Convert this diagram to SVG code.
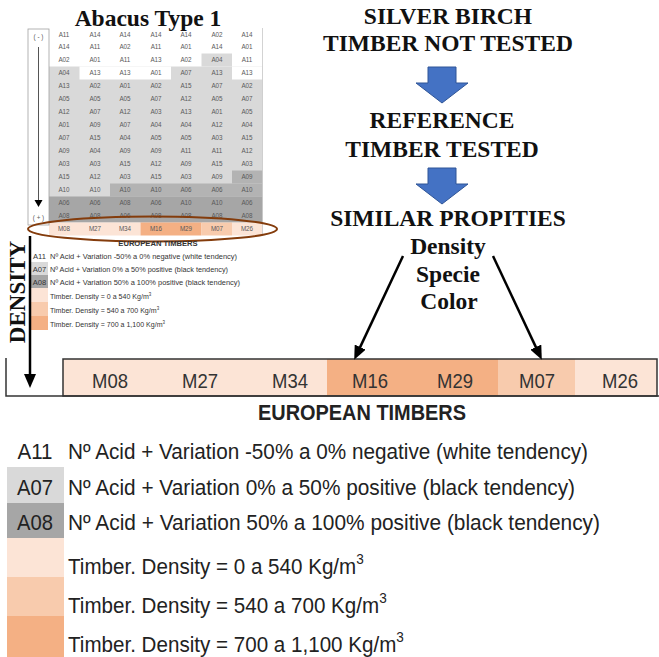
<svg xmlns="http://www.w3.org/2000/svg" width="659" height="657" viewBox="0 0 659 657">
  <style>
    .serif { font-family: "Liberation Serif", "Times New Roman", serif; font-weight: bold; fill: #111; }
    .head { font-size: 23.5px; text-anchor: middle; }
    .cell { font-family: "Liberation Sans", Arial, sans-serif; font-size: 6.3px; fill: #595959; text-anchor: middle; }
    .sm { font-family: "Liberation Sans", Arial, sans-serif; font-size: 7.6px; fill: #333; }
    .lg { font-family: "Liberation Sans", Arial, sans-serif; font-size: 22px; fill: #222; }
    .mt { font-family: "Liberation Sans", Arial, sans-serif; font-size: 21px; fill: #333; text-anchor: middle; }
    .lgray { fill: #d9d9d9; }
    .dgray { fill: #b3b3b3; }
    .ddgray { fill: #a6a6a6; }
    .p1 { fill: #fce4d6; }
    .p2 { fill: #f8cbad; }
    .p3 { fill: #f4b084; }
    .blue { fill: #4472c4; stroke: #2f5597; stroke-width: 1; }
    .blk { stroke: #000; stroke-width: 2.5; fill: none; }
  </style>
  <defs>
    <marker id="tip" viewBox="0 0 14 12" refX="2" refY="6" markerWidth="14" markerHeight="12" markerUnits="userSpaceOnUse" orient="auto">
      <path d="M0,0 L14,6 L0,12 Z" fill="#000"/>
    </marker>
  </defs>
  <rect width="659" height="657" fill="#fff"/>

  <!-- Abacus table -->
  <g id="abacus">
    <text class="serif" x="148" y="26" font-size="23.5" text-anchor="middle">Abacus Type 1</text>
    <!-- shading -->
    <rect class="lgray" x="49" y="66.5" width="213.5" height="156"/>
    <rect fill="#fff" x="79.5" y="66.5" width="91.5" height="13"/>
    <rect fill="#fff" x="232" y="66.5" width="30.5" height="13"/>
    <rect class="lgray" x="201.5" y="53.5" width="30.5" height="13"/>
    <rect class="dgray" x="232" y="170.5" width="30.5" height="13"/>
    <rect class="dgray" x="110" y="183.5" width="152.5" height="13"/>
    <rect class="ddgray" x="49" y="196.5" width="213.5" height="26"/>
    <!-- timber row -->
    <rect class="p1" x="49" y="222.5" width="91.5" height="13"/>
    <rect class="p3" x="140.5" y="222.5" width="61" height="13"/>
    <rect class="p2" x="201.5" y="222.5" width="30.5" height="13"/>
    <rect class="p1" x="232" y="222.5" width="30.5" height="13"/>
    <line x1="262.5" y1="28" x2="262.5" y2="236" stroke="#c8c8c8" stroke-width="0.8"/>
    <!-- scale box -->
    <rect x="28" y="29" width="21" height="196" fill="none" stroke="#a0a0a0" stroke-width="0.8"/>
    <text class="cell" x="38.5" y="38.5" font-size="7">( - )</text>
    <text class="cell" x="38.5" y="220" font-size="7">( + )</text>
    <line x1="38.5" y1="47" x2="38.5" y2="201" stroke="#555" stroke-width="1"/>
    <path d="M34.5,200 L42.5,200 L38.5,207 Z" fill="#000"/>
    <!-- cell values -->
    <text class="cell" y="36.6"><tspan x="64">A11</tspan><tspan x="95">A14</tspan><tspan x="125">A14</tspan><tspan x="156">A14</tspan><tspan x="186">A14</tspan><tspan x="217">A02</tspan><tspan x="247">A14</tspan></text>
    <text class="cell" y="49.3"><tspan x="64">A14</tspan><tspan x="95">A11</tspan><tspan x="125">A02</tspan><tspan x="156">A11</tspan><tspan x="186">A01</tspan><tspan x="217">A14</tspan><tspan x="247">A01</tspan></text>
    <text class="cell" y="62.3"><tspan x="64">A02</tspan><tspan x="95">A01</tspan><tspan x="125">A11</tspan><tspan x="156">A13</tspan><tspan x="186">A02</tspan><tspan x="217">A04</tspan><tspan x="247">A11</tspan></text>
    <text class="cell" y="75.3"><tspan x="64">A04</tspan><tspan x="95">A13</tspan><tspan x="125">A13</tspan><tspan x="156">A01</tspan><tspan x="186">A07</tspan><tspan x="217">A13</tspan><tspan x="247">A13</tspan></text>
    <text class="cell" y="88.3"><tspan x="64">A13</tspan><tspan x="95">A02</tspan><tspan x="125">A01</tspan><tspan x="156">A02</tspan><tspan x="186">A15</tspan><tspan x="217">A07</tspan><tspan x="247">A02</tspan></text>
    <text class="cell" y="101.3"><tspan x="64">A05</tspan><tspan x="95">A05</tspan><tspan x="125">A05</tspan><tspan x="156">A07</tspan><tspan x="186">A12</tspan><tspan x="217">A05</tspan><tspan x="247">A07</tspan></text>
    <text class="cell" y="114.3"><tspan x="64">A12</tspan><tspan x="95">A07</tspan><tspan x="125">A12</tspan><tspan x="156">A03</tspan><tspan x="186">A13</tspan><tspan x="217">A01</tspan><tspan x="247">A05</tspan></text>
    <text class="cell" y="127.3"><tspan x="64">A01</tspan><tspan x="95">A09</tspan><tspan x="125">A07</tspan><tspan x="156">A04</tspan><tspan x="186">A04</tspan><tspan x="217">A12</tspan><tspan x="247">A04</tspan></text>
    <text class="cell" y="140.3"><tspan x="64">A07</tspan><tspan x="95">A15</tspan><tspan x="125">A04</tspan><tspan x="156">A05</tspan><tspan x="186">A05</tspan><tspan x="217">A03</tspan><tspan x="247">A15</tspan></text>
    <text class="cell" y="153.3"><tspan x="64">A09</tspan><tspan x="95">A04</tspan><tspan x="125">A09</tspan><tspan x="156">A09</tspan><tspan x="186">A11</tspan><tspan x="217">A11</tspan><tspan x="247">A12</tspan></text>
    <text class="cell" y="166.3"><tspan x="64">A03</tspan><tspan x="95">A03</tspan><tspan x="125">A15</tspan><tspan x="156">A12</tspan><tspan x="186">A09</tspan><tspan x="217">A15</tspan><tspan x="247">A03</tspan></text>
    <text class="cell" y="179.3"><tspan x="64">A15</tspan><tspan x="95">A12</tspan><tspan x="125">A03</tspan><tspan x="156">A15</tspan><tspan x="186">A03</tspan><tspan x="217">A09</tspan><tspan x="247">A09</tspan></text>
    <text class="cell" y="192.3"><tspan x="64">A10</tspan><tspan x="95">A10</tspan><tspan x="125">A10</tspan><tspan x="156">A10</tspan><tspan x="186">A06</tspan><tspan x="217">A06</tspan><tspan x="247">A10</tspan></text>
    <text class="cell" y="205.3"><tspan x="64">A06</tspan><tspan x="95">A06</tspan><tspan x="125">A08</tspan><tspan x="156">A06</tspan><tspan x="186">A10</tspan><tspan x="217">A10</tspan><tspan x="247">A06</tspan></text>
    <text class="cell" y="218.3"><tspan x="64">A08</tspan><tspan x="95">A08</tspan><tspan x="125">A06</tspan><tspan x="156">A08</tspan><tspan x="186">A08</tspan><tspan x="217">A08</tspan><tspan x="247">A08</tspan></text>
    <text class="cell" y="231.3"><tspan x="64">M08</tspan><tspan x="95">M27</tspan><tspan x="125">M34</tspan><tspan x="156">M16</tspan><tspan x="186">M29</tspan><tspan x="217">M07</tspan><tspan x="247">M26</tspan></text>
    <!-- highlight of the timber row -->
    <ellipse cx="152.5" cy="229" rx="124.5" ry="12.5" fill="none" stroke="#843c0c" stroke-width="2"/>
  </g>

  <!-- Small legend under the table -->
  <g id="small-legend">
    <text class="sm" x="158" y="246" font-weight="bold" font-size="7" text-anchor="middle">EUROPEAN TIMBERS</text>
    <rect class="lgray" x="30" y="262" width="18" height="13"/>
    <rect class="ddgray" x="30" y="275" width="18" height="13"/>
    <rect class="p1" x="30" y="288" width="18" height="14"/>
    <rect class="p2" x="30" y="302" width="18" height="14"/>
    <rect class="p3" x="30" y="316" width="18" height="14"/>
    <text class="sm" x="39.5" y="258.5" text-anchor="middle">A11</text>
    <text class="sm" x="39.5" y="271.8" text-anchor="middle">A07</text>
    <text class="sm" x="39.5" y="284.8" text-anchor="middle">A08</text>
    <text class="sm" x="50" y="258.5" textLength="187" lengthAdjust="spacingAndGlyphs">Nº Acid + Variation -50% a 0% negative (white tendency)</text>
    <text class="sm" x="50" y="271.8" textLength="178" lengthAdjust="spacingAndGlyphs">Nº Acid + Variation 0% a 50% positive (black tendency)</text>
    <text class="sm" x="50" y="284.8" textLength="190" lengthAdjust="spacingAndGlyphs">Nº Acid + Variation 50% a 100% positive (black tendency)</text>
    <text class="sm" transform="translate(50,299) scale(0.93,1)" font-size="7">Timber. Density = 0 a 540 Kg/m<tspan font-size="4.8" dy="-3.2">3</tspan></text>
    <text class="sm" transform="translate(50,313) scale(0.93,1)" font-size="7">Timber. Density = 540 a 700 Kg/m<tspan font-size="4.8" dy="-3.2">3</tspan></text>
    <text class="sm" transform="translate(50,327) scale(0.93,1)" font-size="7">Timber. Density = 700 a 1,100 Kg/m<tspan font-size="4.8" dy="-3.2">3</tspan></text>
  </g>

  <!-- Density axis label -->
  <g id="density-axis">
    <text class="serif" transform="translate(24.5,292) rotate(-90)" font-size="23" text-anchor="middle">DENSITY</text>
  </g>

  <!-- Process steps -->
  <g id="step-silver-birch">
    <text class="serif head" x="448" y="24">SILVER BIRCH</text>
    <text class="serif head" x="448" y="51">TIMBER NOT TESTED</text>
  </g>
  <g id="step-reference">
    <text class="serif head" x="442" y="128">REFERENCE</text>
    <text class="serif head" x="442" y="157">TIMBER TESTED</text>
  </g>
  <g id="step-similar">
    <text class="serif head" x="448" y="226">SIMILAR PROPITIES</text>
    <text class="serif head" x="448" y="254">Density</text>
    <text class="serif head" x="448" y="282">Specie</text>
    <text class="serif head" x="449" y="309">Color</text>
  </g>

  <!-- European timbers bar -->
  <g id="timber-bar">
    <rect class="p1" x="63" y="359" width="264" height="37"/>
    <rect class="p3" x="327" y="359" width="171" height="37"/>
    <rect class="p2" x="498" y="359" width="77" height="37"/>
    <rect class="p1" x="575" y="359" width="82" height="37"/>
    <rect x="63" y="359" width="594" height="37" fill="none" stroke="#333" stroke-width="1.5"/>
    <polyline points="6,358 6,396 659,396" fill="none" stroke="#333" stroke-width="1.5"/>
    <text class="mt" x="110" y="388" textLength="36" lengthAdjust="spacingAndGlyphs">M08</text>
    <text class="mt" x="200" y="388" textLength="36" lengthAdjust="spacingAndGlyphs">M27</text>
    <text class="mt" x="290" y="388" textLength="36" lengthAdjust="spacingAndGlyphs">M34</text>
    <text class="mt" x="370" y="388" textLength="36" lengthAdjust="spacingAndGlyphs">M16</text>
    <text class="mt" x="455" y="388" textLength="36" lengthAdjust="spacingAndGlyphs">M29</text>
    <text class="mt" x="537" y="388" textLength="36" lengthAdjust="spacingAndGlyphs">M07</text>
    <text class="mt" x="620" y="388" textLength="36" lengthAdjust="spacingAndGlyphs">M26</text>
    <text class="lg" x="362" y="420" font-weight="bold" font-size="21" text-anchor="middle" textLength="208" lengthAdjust="spacingAndGlyphs">EUROPEAN TIMBERS</text>
  </g>

  <!-- Large legend -->
  <g id="legend">
    <rect class="lgray" x="7" y="467" width="57" height="36"/>
    <rect class="ddgray" x="7" y="503" width="57" height="35"/>
    <rect class="p1" x="7" y="538" width="57" height="39"/>
    <rect class="p2" x="7" y="577" width="57" height="39"/>
    <rect class="p3" x="7" y="616" width="57" height="41"/>
    <text class="lg" x="35" y="459" text-anchor="middle" textLength="35" lengthAdjust="spacingAndGlyphs">A11</text>
    <text class="lg" x="35" y="495" text-anchor="middle" textLength="36" lengthAdjust="spacingAndGlyphs">A07</text>
    <text class="lg" x="35" y="530" text-anchor="middle" textLength="36" lengthAdjust="spacingAndGlyphs">A08</text>
    <text class="lg" x="68" y="459" textLength="520" lengthAdjust="spacingAndGlyphs">Nº Acid + Variation -50% a 0% negative (white tendency)</text>
    <text class="lg" x="68" y="495" textLength="507" lengthAdjust="spacingAndGlyphs">Nº Acid + Variation 0% a 50% positive (black tendency)</text>
    <text class="lg" x="68" y="530" textLength="532" lengthAdjust="spacingAndGlyphs">Nº Acid + Variation 50% a 100% positive (black tendency)</text>
    <text class="lg" transform="translate(68,574) scale(0.937,1)">Timber. Density = 0 a 540 Kg/m<tspan font-size="14.5" dy="-10">3</tspan></text>
    <text class="lg" transform="translate(68,613) scale(0.937,1)">Timber. Density = 540 a 700 Kg/m<tspan font-size="14.5" dy="-10">3</tspan></text>
    <text class="lg" transform="translate(68,652) scale(0.937,1)">Timber. Density = 700 a 1,100 Kg/m<tspan font-size="14.5" dy="-10">3</tspan></text>
  </g>

  <!-- Connectors -->
  <g id="connectors">
    <polygon class="blue" points="428,67 456,67 456,83 468,83 442,103 416,83 428,83"/>
    <polygon class="blue" points="428,168 456,168 456,184 468,184 442,204 416,184 428,184"/>
    <line class="blk" x1="403" y1="256" x2="359.3" y2="348.9" marker-end="url(#tip)"/>
    <line class="blk" x1="493" y1="256" x2="536.7" y2="348.9" marker-end="url(#tip)"/>
    <line class="blk" x1="30" y1="236" x2="30" y2="376" marker-end="url(#tip)"/>
  </g>
</svg>
